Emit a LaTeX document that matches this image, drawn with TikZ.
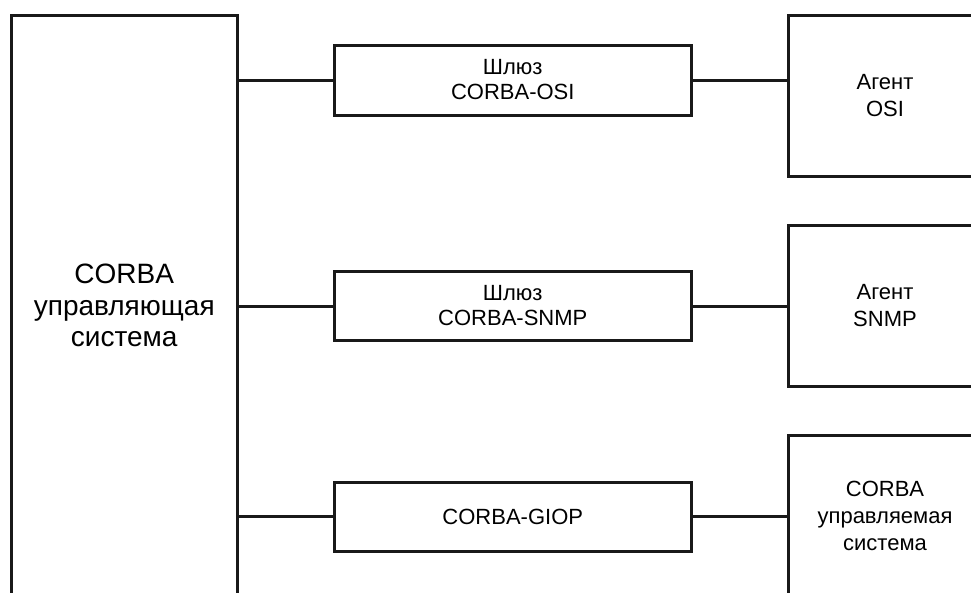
\documentclass[tikz,border=0pt]{standalone}
\usepackage{fontspec}
\setmainfont{Liberation Sans}
\begin{document}
\begin{tikzpicture}[x=1pt,y=-1pt,line width=3pt,
  box/.style={draw=black!90,rectangle,inner sep=0pt,align=center,line join=miter},
  bigtext/.style={font=\fontsize{28}{31.5}\selectfont},
  midtext/.style={font=\fontsize{22}{25}\selectfont},
  agtext/.style={font=\fontsize{22}{27}\selectfont},
  link/.style={draw=black!90}]
\useasboundingbox (0,0) rectangle (971,592);
\clip (0,0) rectangle (971,592);
% left box
\node[box,bigtext,minimum width=225.5pt,minimum height=580pt] (ctl) at (124.25,305.5)
  {CORBA\\управляющая\\система};
% middle boxes
\node[box,midtext,minimum width=356.5pt,minimum height=70pt] (gw1) at (512.75,80)
  {Шлюз\\CORBA-OSI};
\node[box,midtext,minimum width=356.5pt,minimum height=69pt] (gw2) at (512.75,306)
  {Шлюз\\CORBA-SNMP};
\node[box,midtext,minimum width=356.5pt,minimum height=69pt] (gw3) at (512.75,516.5)
  {CORBA-GIOP};
% right boxes
\node[box,agtext,minimum width=194pt,minimum height=161pt] (ag1) at (885,95.5)
  {Агент\\OSI};
\node[box,agtext,minimum width=194pt,minimum height=161pt] (ag2) at (885,305.5)
  {Агент\\SNMP};
\node[box,agtext,minimum width=194pt,minimum height=161pt] (ag3) at (885,515.5)
  {CORBA\\управляемая\\система};
% connectors
\draw[link] (gw1.west) -- (gw1.west -| ctl.east);
\draw[link] (gw2.west) -- (gw2.west -| ctl.east);
\draw[link] (gw3.west) -- (gw3.west -| ctl.east);
\draw[link] (gw1.east) -- (gw1.east -| ag1.west);
\draw[link] (gw2.east) -- (gw2.east -| ag2.west);
\draw[link] (gw3.east) -- (gw3.east -| ag3.west);
\end{tikzpicture}
\end{document}
